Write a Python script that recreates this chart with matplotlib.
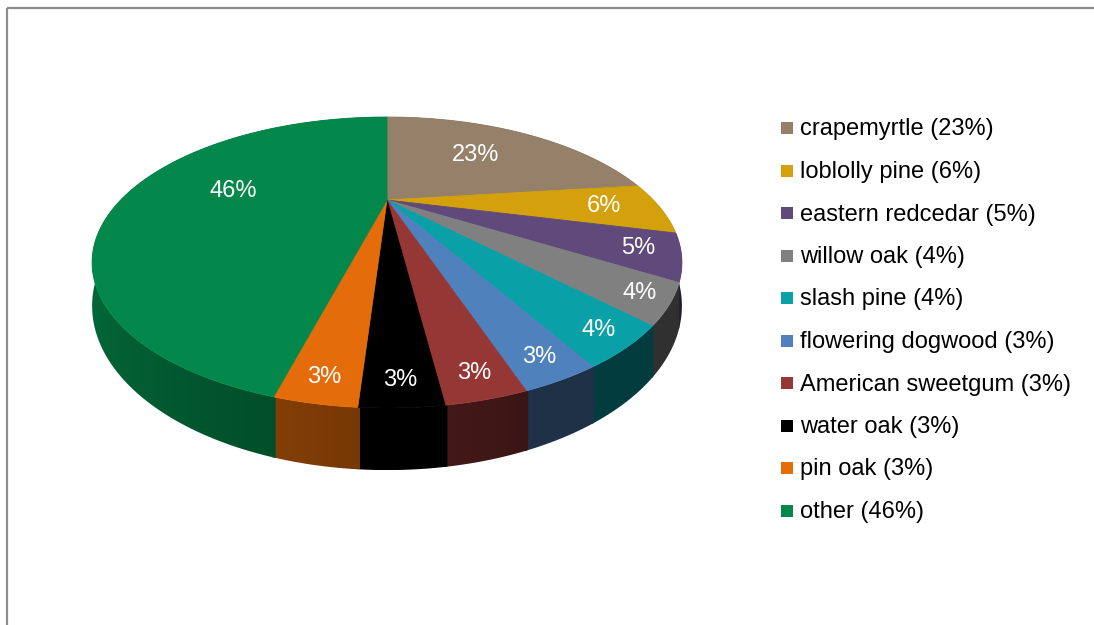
import numpy as np
import matplotlib
matplotlib.use("Agg")
import matplotlib.pyplot as plt
from matplotlib.patches import Polygon, Rectangle
from matplotlib.colors import to_rgb

# Share of street trees by species (percent)
species = ["crapemyrtle", "loblolly pine", "eastern redcedar", "willow oak",
           "slash pine", "flowering dogwood", "American sweetgum", "water oak",
           "pin oak", "other"]
shares = [23, 6, 5, 4, 4, 3, 3, 3, 3, 46]
colors = ["#958069", "#D4A00B", "#604A7B", "#808080", "#0AA0A8",
          "#4F81BD", "#953735", "#000000", "#E46C0A", "#03874A"]

W, H = 1094, 625
plt.rcParams["font.family"] = ["Liberation Sans", "DejaVu Sans"]
fig = plt.figure(figsize=(W / 100, H / 100), dpi=100)
ax = fig.add_axes([0, 0, 1, 1])
ax.axis("off")

# Perspective view of a tilted disk: centre, tilt, horizontal scale, thickness
CX, CY = 387.0, 200.0
K = -0.4296
B = 32.74
C = 266.3
DEPTH = 35.4
PAD = 0.005  # small angular overlap between neighbouring walls


def project(u, v, drop=0.0):
    w = 1.0 + K * v
    return CX + C * u / w, (CY + B * v + drop) / w


def rim(theta, r=1.0, drop=0.0):
    # theta runs clockwise from 12 o'clock
    return project(r * np.sin(theta), -r * np.cos(theta), drop)


def wall_shade(theta):
    # lighting on the outer wall: bright on the left, dark towards the right
    s = np.sin((theta - np.radians(160)) * 90.0 / 110.0)
    return 0.38 + 0.42 * np.clip(s, 0, 1)


total = float(sum(shares))
bounds = np.concatenate([[0.0], np.cumsum(shares) / total]) * 2 * np.pi

# visible front arc of the rim (between the two silhouette points)
t_sil = np.arccos(K)
front_t = np.linspace(t_sil, 2 * np.pi - t_sil, 600)
front_x = np.array([rim(t)[0] for t in front_t])

# outer walls, each with a smooth horizontal gradient
for i, col in enumerate(colors):
    t1, t2 = bounds[i] - PAD, bounds[i + 1] + PAD
    ts = np.linspace(t1, t2, max(10, int(np.degrees(t2 - t1) * 2)))
    top = [rim(t) for t in ts]
    bot = [rim(t, drop=DEPTH) for t in ts[::-1]]
    poly = np.array(top + bot)
    x0, x1 = poly[:, 0].min(), poly[:, 0].max()
    y0, y1 = poly[:, 1].min(), poly[:, 1].max()
    cols = np.linspace(x0, x1, max(2, int(x1 - x0) + 1))
    th = np.interp(cols, front_x[::-1], front_t[::-1])
    base = np.array(to_rgb(col))
    img = np.clip(base[None, :] * wall_shade(th)[:, None], 0, 1)
    img = np.repeat(img[None, :, :], 2, axis=0)
    clip = Polygon(poly, closed=True, facecolor="none", edgecolor="none")
    ax.add_patch(clip)
    im = ax.imshow(img, extent=(x0, x1, y1, y0), aspect="auto",
                   interpolation="bilinear", zorder=1)
    im.set_clip_path(clip)

# top faces
for i, col in enumerate(colors):
    t1, t2 = bounds[i], bounds[i + 1]
    ts = np.linspace(t1, t2, max(8, int(np.degrees(t2 - t1))))
    pts = [project(0.0, 0.0)] + [rim(t) for t in ts]
    ax.add_patch(Polygon(pts, closed=True, facecolor=col, edgecolor=col,
                         lw=0.6, zorder=2))

# percentage labels on the slices
for i, s in enumerate(shares):
    mid = 0.5 * (bounds[i] + bounds[i + 1])
    r = max(0.6, min(0.92, 1.25 - 7.5 * s / total))
    x, y = rim(mid, r=r)
    ax.text(x, y, f"{s}%", color="white", fontsize=17, ha="center",
            va="center", zorder=3)

# legend
LX, LY0, LSTEP, SQ = 781, 128, 42.5, 12
for i, (name, s, col) in enumerate(zip(species, shares, colors)):
    y = LY0 + i * LSTEP
    ax.add_patch(Rectangle((LX, y - SQ / 2), SQ, SQ, facecolor=col,
                           edgecolor="none"))
    ax.text(LX + SQ + 7, y + 1.5, f"{name} ({s}%)", fontsize=17, color="black",
            ha="left", va="center")

# chart frame
ax.add_patch(Rectangle((7, 8), 3000, 3000, fill=False, edgecolor="#8c8c8c",
                       lw=1.6))

ax.set_xlim(0, W)
ax.set_ylim(H, 0)
fig.savefig("out.png", dpi=100)
